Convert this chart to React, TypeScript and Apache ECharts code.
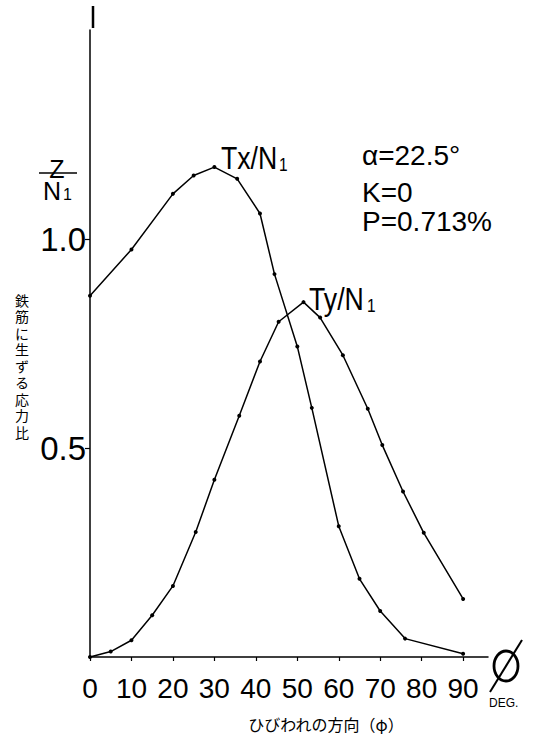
import React, { useEffect, useRef } from "react";
import * as echarts from "echarts";

// Tx/N1 series (angle in degrees, stress ratio)
const txAngles = [0, 10, 20, 25, 30, 35.5, 41, 44.5, 50, 53.5, 60, 65, 70, 76, 90];
const txValues = [0.864, 0.975, 1.108, 1.152, 1.172, 1.144, 1.061, 0.916, 0.743, 0.596, 0.313, 0.187, 0.11, 0.044, 0.008];

// Ty/N1 series
const tyAngles = [0, 5, 10, 15, 20, 25.5, 30, 36, 41, 45.5, 51.5, 55.5, 61, 67, 70.5, 75.5, 80.5, 90];
const tyValues = [0, 0.013, 0.04, 0.1, 0.17, 0.299, 0.424, 0.577, 0.707, 0.802, 0.849, 0.812, 0.722, 0.594, 0.507, 0.396, 0.297, 0.139];

const xTicks = [0, 10, 20, 30, 40, 50, 60, 70, 80, 90];
const yTicks = [0.5, 1.0];

const yTitle = "鉄筋に生ずる応力比";
const xTitle = "ひびわれの方向（φ）";
const paramLines = ["α=22.5°", "K=0", "P=0.713%"];

const SANS = '"Liberation Sans", Arial, sans-serif';
const CJK = '"Noto Sans CJK JP", "Noto Sans CJK SC", sans-serif';

export default function App() {
  const ref = useRef<HTMLDivElement>(null);
  useEffect(() => {
    document.body.style.margin = "0";
    if (!ref.current) return;
    const chart = echarts.init(ref.current, null, { renderer: "svg" });
    const tx = txAngles.map((a, i) => [a, txValues[i]]);
    const ty = tyAngles.map((a, i) => [a, tyValues[i]]);
    const lineStyle = { color: "#000", width: 1.5 };
    const paramY = [141, 178, 207];
    chart.setOption({
      animation: false,
      backgroundColor: "#fff",
      grid: { left: 90, right: 49, top: 30, bottom: 93 },
      xAxis: {
        type: "value",
        min: 0,
        max: 96,
        splitLine: { show: false },
        axisLine: { lineStyle: { color: "#000", width: 1.5 } },
        axisTick: { customValues: xTicks, length: 4, lineStyle: { color: "#000", width: 1.2 } },
        axisLabel: {
          customValues: xTicks,
          color: "#000",
          fontFamily: SANS,
          fontSize: 28,
          margin: 17,
        },
      },
      yAxis: {
        type: "value",
        min: 0,
        max: 1.5,
        splitLine: { show: false },
        axisLine: { show: true, lineStyle: { color: "#000", width: 1.5 } },
        axisTick: { show: true, customValues: yTicks, length: 5, lineStyle: { color: "#000", width: 1.2 } },
        axisLabel: {
          customValues: yTicks,
          formatter: (v: number) => v.toFixed(1),
          color: "#000",
          fontFamily: SANS,
          fontSize: 33,
          margin: 4,
        },
      },
      series: [
        {
          type: "line",
          data: tx,
          symbol: "circle",
          symbolSize: 4,
          itemStyle: { color: "#000" },
          lineStyle,
        },
        {
          type: "line",
          data: ty,
          symbol: "circle",
          symbolSize: 4,
          itemStyle: { color: "#000" },
          lineStyle,
        },
      ],
      graphic: [
        { type: "line", shape: { x1: 93, y1: 6, x2: 93, y2: 28 }, style: { stroke: "#000", lineWidth: 2.5 } },
        // Z / N1
        { type: "text", x: 57, y: 181, style: { text: "Z", font: `25px ${SANS}`, fill: "#000", textAlign: "center", textVerticalAlign: "bottom" } },
        { type: "line", shape: { x1: 39, y1: 173, x2: 77, y2: 173 }, style: { stroke: "#000", lineWidth: 1.5 } },
        { type: "text", x: 43, y: 178, style: { text: "N", font: `25px ${SANS}`, fill: "#000", textVerticalAlign: "top" } },
        { type: "text", x: 63, y: 186, style: { text: "1", font: `16px ${SANS}`, fill: "#000", textVerticalAlign: "top" } },
        // Tx/N1
        { type: "text", x: 221, y: 143, scaleX: 0.86, style: { text: "Tx/N", font: `31px ${SANS}`, fill: "#000", textVerticalAlign: "top" } },
        { type: "text", x: 279, y: 156, scaleX: 0.86, style: { text: "1", font: `18px ${SANS}`, fill: "#000", textVerticalAlign: "top" } },
        // Ty/N1
        { type: "text", x: 309, y: 284, scaleX: 0.86, style: { text: "Ty/N", font: `31px ${SANS}`, fill: "#000", textVerticalAlign: "top" } },
        { type: "text", x: 367, y: 297, scaleX: 0.86, style: { text: "1", font: `18px ${SANS}`, fill: "#000", textVerticalAlign: "top" } },
        // parameters
        ...paramLines.map((t, i) => ({
          type: "text",
          x: 362,
          y: paramY[i],
          style: { text: t, font: `28px ${SANS}`, fill: "#000", textVerticalAlign: "top" },
        })),
        // phi symbol and DEG.
        { type: "ellipse", shape: { cx: 506, cy: 666, rx: 12, ry: 15 }, style: { stroke: "#000", fill: "none", lineWidth: 2.8 } },
        { type: "line", shape: { x1: 522, y1: 640, x2: 490, y2: 692 }, style: { stroke: "#000", lineWidth: 2 } },
        { type: "text", x: 489, y: 697, style: { text: "DEG.", font: `12px ${SANS}`, fill: "#000", textVerticalAlign: "top" } },
        // axis titles (vertical stacked characters)
        ...yTitle.split("").map((ch, i) => ({
          type: "text",
          x: 22,
          y: 292 + i * 16.5,
          style: { text: ch, font: `14px ${CJK}`, lineHeight: 15, fill: "#000", textAlign: "center", textVerticalAlign: "top" },
        })),
        { type: "text", x: 326, y: 724, style: { text: xTitle, font: `16px ${CJK}`, fill: "#000", textAlign: "center", textVerticalAlign: "middle" } },
      ],
    });
    return () => chart.dispose();
  }, []);
  return <div ref={ref} style={{ width: 537, height: 750 }} />;
}
